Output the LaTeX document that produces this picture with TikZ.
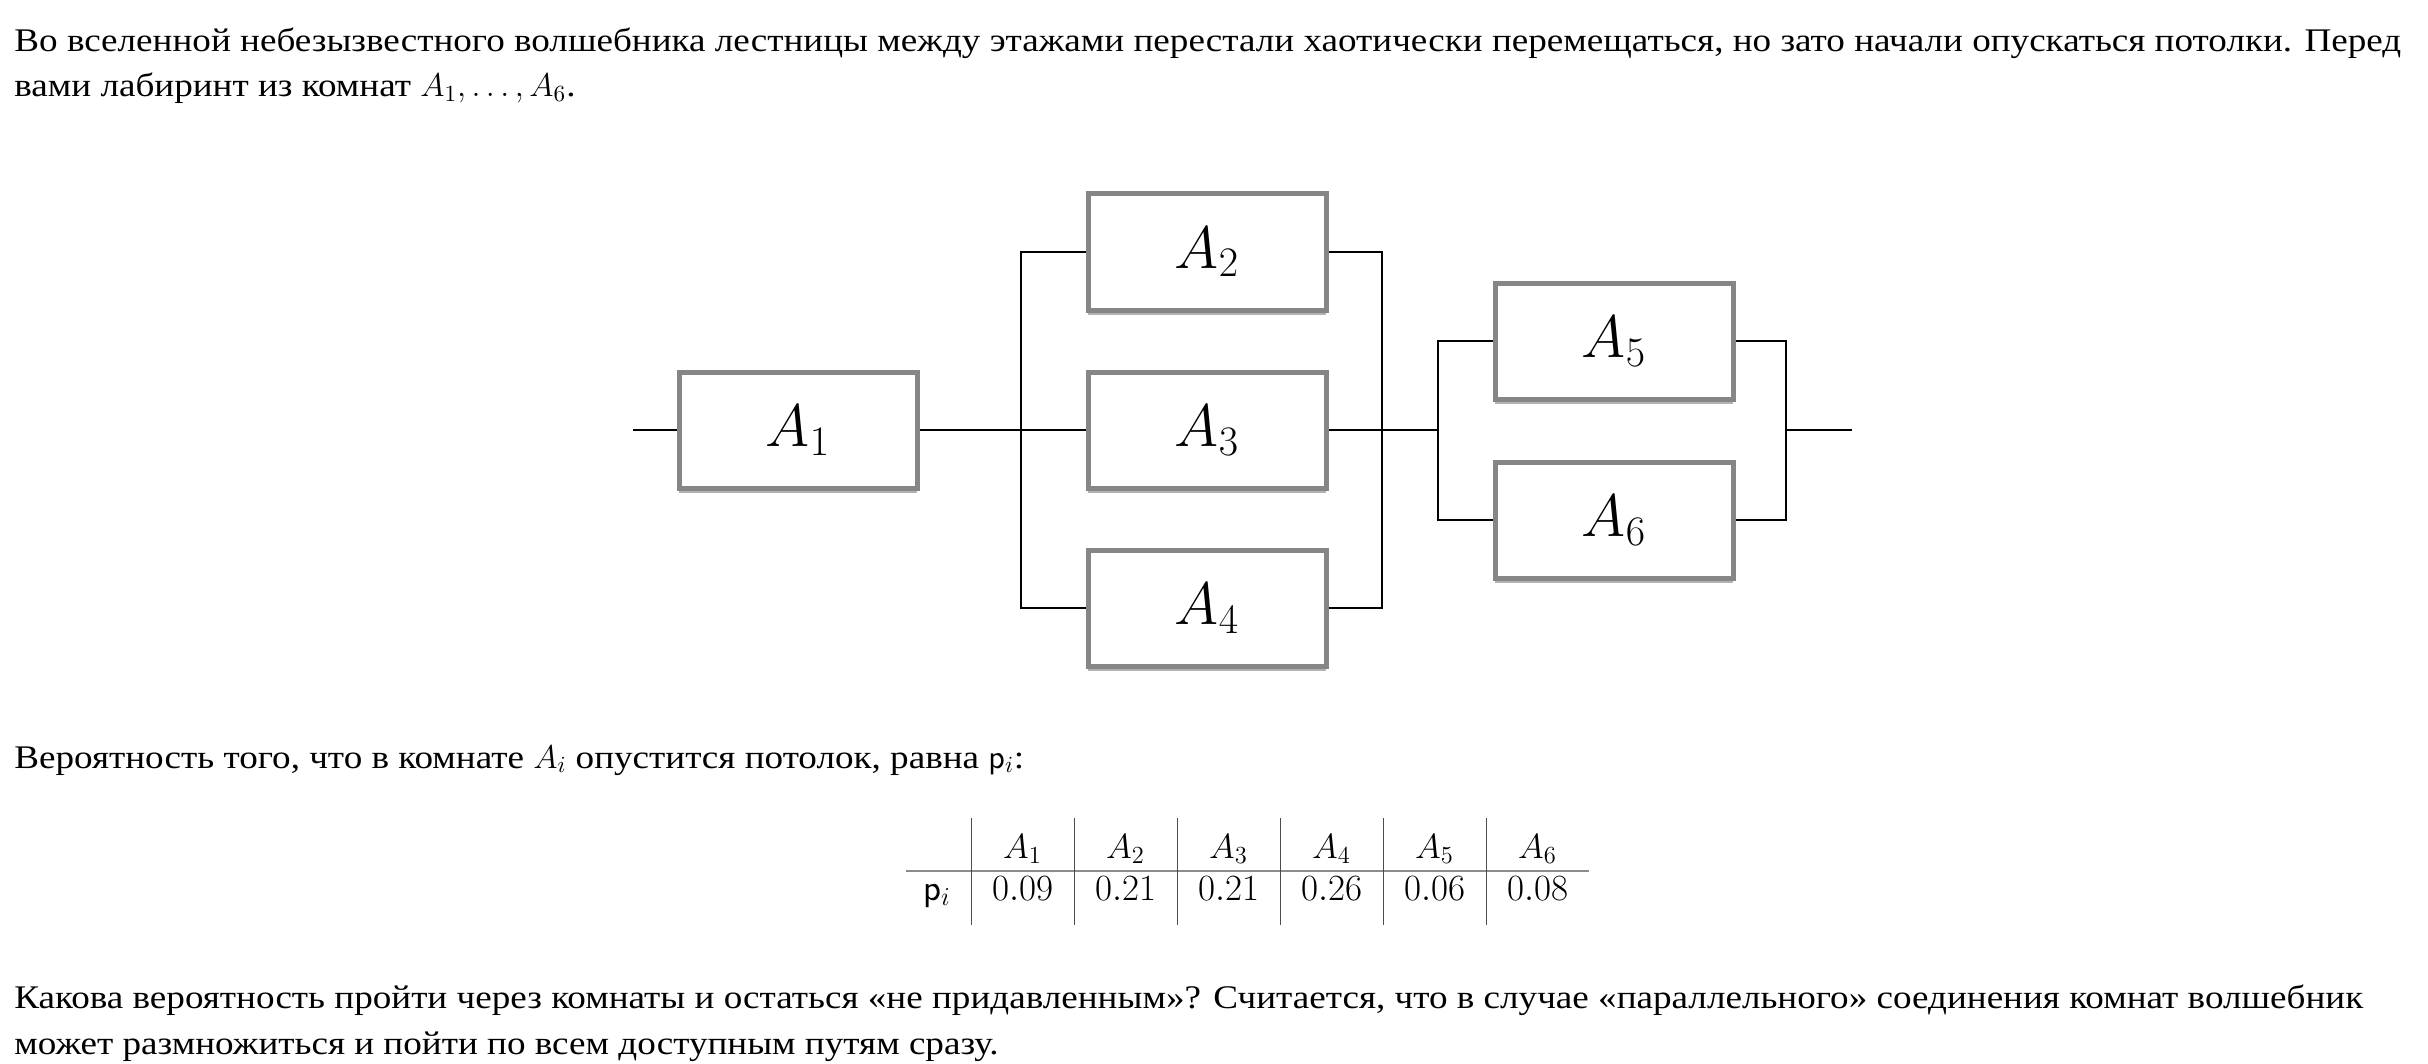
\RequirePackage{fix-cm}
\documentclass[tikz,border=0pt]{standalone}
\usepackage[no-math]{fontspec}
\setmainfont[FakeStretch=1.125]{Liberation Serif}
\usetikzlibrary{shadows}
\definecolor{roomgray}{HTML}{868686}
\definecolor{rulegray}{HTML}{8C8C8C}
\tikzset{
  roombox/.style={
    draw=roomgray, line width=2.5pt, fill=white,
    minimum width=119pt, minimum height=58pt, inner sep=0pt,
    font=\fontsize{30}{36}\selectfont,
    drop shadow={shadow xshift=0pt, shadow yshift=-2.5pt, opacity=0.3, fill=black}
  },
  wire/.style={line width=1pt, black},
  bodytext/.style={anchor=base west, inner sep=0pt, font=\fontsize{16.5}{20}\selectfont},
  tabhead/.style={anchor=base, inner sep=0pt, font=\fontsize{17.5}{20}\selectfont},
  tabcell/.style={anchor=base, inner sep=0pt, font=\fontsize{18.5}{21}\selectfont}
}

\begin{document}
\begin{tikzpicture}[x=0.5pt, y=-0.5pt]
  \useasboundingbox (0,0) rectangle (2428,1064);

  % Text
  \node[bodytext] (t1) at (14,52) {Во вселенной небезызвестного волшебника лестницы между этажами перестали хаотически перемещаться, но зато начали опускаться потолки. Перед};
  \node[bodytext] (t2) at (14,97) {вами лабиринт из комнат $A_1, \ldots, A_6$.};
  \node[bodytext] (t3) at (14,768) {Вероятность того, что в комнате $A_i$ опустится потолок, равна $\mathsf{p}_i$:};
  \node[bodytext] (t4) at (14,1008) {Какова вероятность пройти через комнаты и остаться «не придавленным»? Считается, что в случае «параллельного» соединения комнат волшебник};
  \node[bodytext] (t5) at (14,1054) {может размножиться и пойти по всем доступным путям сразу.};

  % Rooms
  \node[roombox] (A1) at (798,430)  {$A_1$};
  \node[roombox] (A2) at (1207,252) {$A_2$};
  \node[roombox] (A3) at (1207,430) {$A_3$};
  \node[roombox] (A4) at (1207,608) {$A_4$};
  \node[roombox] (A5) at (1614,341) {$A_5$};
  \node[roombox] (A6) at (1614,520) {$A_6$};

  \coordinate (in)   at (633,430);
  \coordinate (busL) at (1021,430);
  \coordinate (busR) at (1382,430);
  \coordinate (busM) at (1438,430);
  \coordinate (busO) at (1786,430);
  \coordinate (out)  at (1852,430);

  % Wires
  \draw[wire] (in) -- (A1.west);
  \draw[wire] (A1.east) -- (busL);
  \draw[wire] (A2.west) -| (busL);
  \draw[wire] (A3.west) -- (busL);
  \draw[wire] (A4.west) -| (busL);
  \draw[wire] (A2.east) -| (busR);
  \draw[wire] (A3.east) -- (busR);
  \draw[wire] (A4.east) -| (busR);
  \draw[wire] (busR) -- (busM);
  \draw[wire] (A5.west) -| (busM);
  \draw[wire] (A6.west) -| (busM);
  \draw[wire] (A5.east) -| (busO);
  \draw[wire] (A6.east) -| (busO);
  \draw[wire] (busO) -- (out);

  % Table
  \draw[rulegray, line width=1pt] (906,871) -- (1589,871);
  \foreach \i in {0,...,5}
    \draw[black!70, line width=0.5pt] ({971+103*\i},818) -- ({971+103*\i},925);
  \node[tabcell] (pi) at (937,900) {$\mathsf{p}_i$};
  \foreach \i/\p in {1/0.09, 2/0.21, 3/0.21, 4/0.26, 5/0.06, 6/0.08} {
    \node[tabhead] (h\i) at ({919.5+103*\i},858) {$A_{\i}$};
    \node[tabcell] (v\i) at ({919.5+103*\i},900) {$\p$};
  }
\end{tikzpicture}
\end{document}
